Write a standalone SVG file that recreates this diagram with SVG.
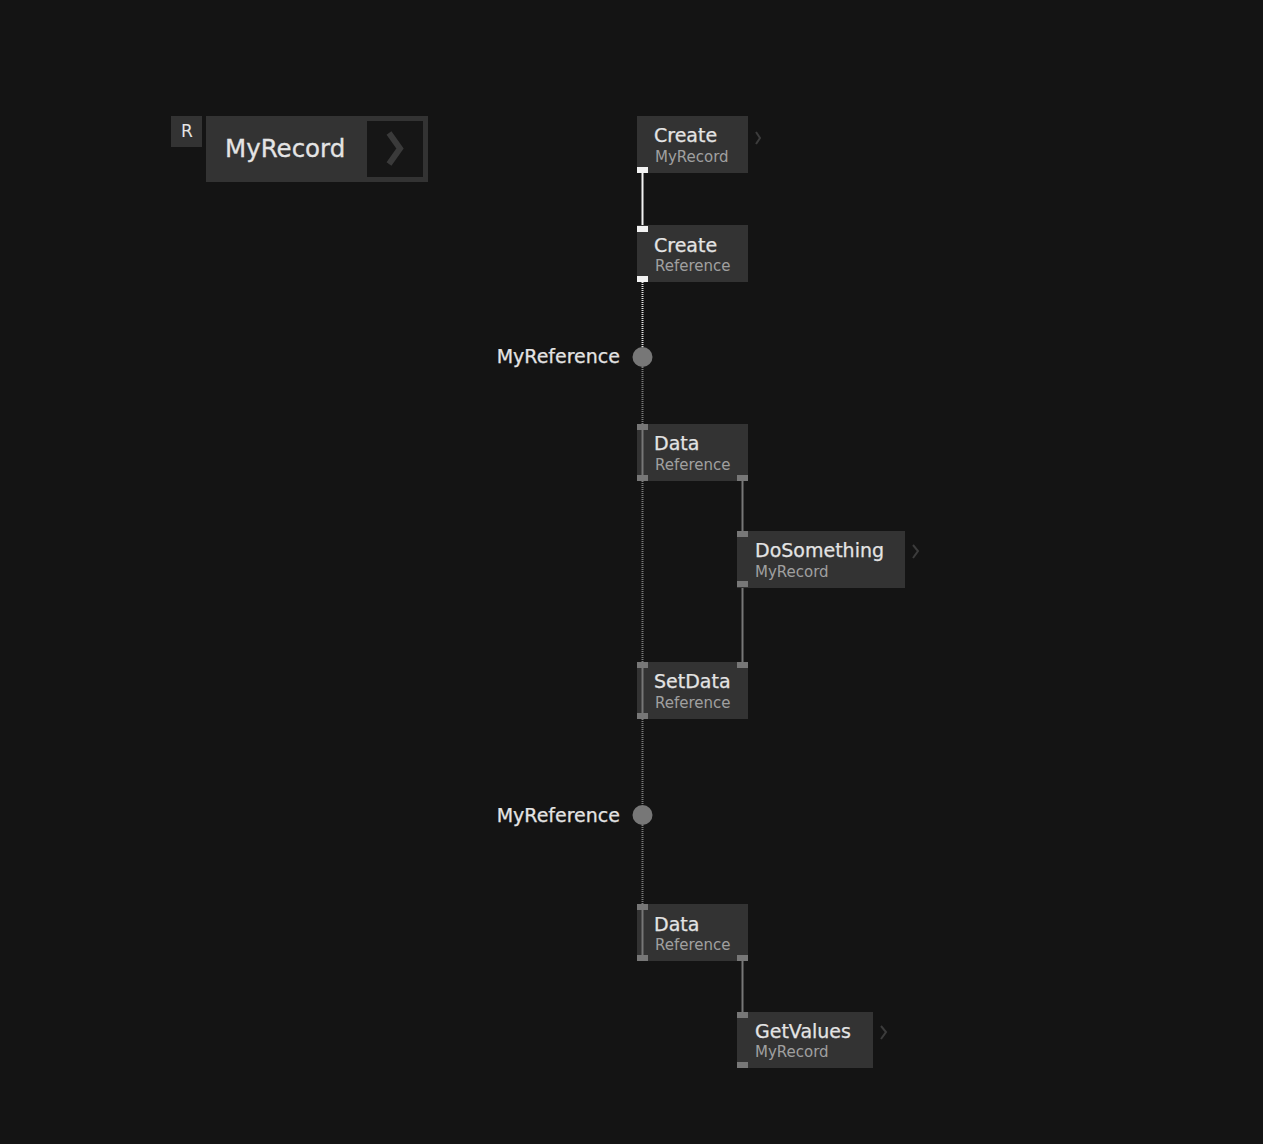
<svg xmlns="http://www.w3.org/2000/svg" width="1263" height="1144" viewBox="0 0 1263 1144">
<style>
.node{fill:#333333}
.t{font-family:"DejaVu Sans",sans-serif;font-size:19px;fill:#e4e4e4;stroke:#e4e4e4;stroke-width:0.25}
.s{font-family:"DejaVu Sans",sans-serif;font-size:15px;fill:#a0a0a0}
.lbl{font-family:"DejaVu Sans",sans-serif;font-size:19px;fill:#e4e4e4;stroke:#e4e4e4;stroke-width:0.25;text-anchor:end}
.pg{fill:#777777}
.pw{fill:#f2f2f2}
.chev{fill:none;stroke:#3c3c3c;stroke-width:2}
.bar{stroke:#777777;stroke-width:2}
.dot{stroke:#7a7a7a;stroke-width:2;stroke-dasharray:1 1}
</style>
<rect width="1263" height="1144" fill="#141414"/>
<g id="connectors">
<line x1="642.5" y1="173" x2="642.5" y2="226" stroke="#f2f2f2" stroke-width="2"/>
<line x1="642.5" y1="282" x2="642.5" y2="347" stroke="#e0e0e0" stroke-width="2" stroke-dasharray="1 1"/>
<line x1="642.5" y1="367" x2="642.5" y2="424" class="dot"/>
<line x1="642.5" y1="481" x2="642.5" y2="662" class="dot"/>
<line x1="642.5" y1="719" x2="642.5" y2="805" class="dot"/>
<line x1="642.5" y1="825" x2="642.5" y2="905" class="dot"/>
<line x1="742.5" y1="481" x2="742.5" y2="531" stroke="#777777" stroke-width="2"/>
<line x1="742.5" y1="587" x2="742.5" y2="662" stroke="#777777" stroke-width="2"/>
<line x1="742.5" y1="961" x2="742.5" y2="1012" stroke="#777777" stroke-width="2"/>
</g>
<g id="record-tag">
<rect x="171" y="116" width="31" height="31" class="node"/>
<text x="187" y="137" font-family="DejaVu Sans,sans-serif" font-size="17" fill="#e4e4e4" text-anchor="middle">R</text>
</g>
<g id="record">
<rect x="206" y="116" width="222" height="66" class="node"/>
<rect x="367" y="121" width="56" height="56" fill="#161616"/>
<text x="225" y="157" font-family="DejaVu Sans,sans-serif" font-size="24.5" fill="#e4e4e4" stroke="#e4e4e4" stroke-width="0.3">MyRecord</text>
<polyline points="389,133 400,148.5 389,164" fill="none" stroke="#3a3a3a" stroke-width="6"/>
</g>
<g id="create-myrecord">
<rect x="637" y="116" width="111" height="57" class="node"/>
<text x="654" y="142" class="t">Create</text>
<text x="655" y="162" class="s">MyRecord</text>
<rect x="637" y="167" width="11" height="6" class="pw"/>
<polyline points="756,132 760,138 756,144" class="chev"/>
</g>
<g id="create-reference">
<rect x="637" y="225" width="111" height="57" class="node"/>
<text x="654" y="252" class="t">Create</text>
<text x="655" y="271" class="s">Reference</text>
<rect x="637" y="226" width="11" height="6" class="pw"/>
<rect x="637" y="276" width="11" height="6" class="pw"/>
</g>
<g id="myreference-1">
<circle cx="642.5" cy="357" r="10" fill="#777777"/>
<text x="620" y="363" class="lbl">MyReference</text>
</g>
<g id="data-1">
<rect x="637" y="424" width="111" height="57" class="node"/>
<line x1="642.5" y1="430" x2="642.5" y2="475" class="bar"/>
<text x="654" y="450" class="t">Data</text>
<text x="655" y="470" class="s">Reference</text>
<rect x="637" y="424" width="11" height="6" class="pg"/>
<rect x="637" y="475" width="11" height="6" class="pg"/>
<rect x="737" y="475" width="11" height="6" class="pg"/>
</g>
<g id="dosomething">
<rect x="737" y="531" width="168" height="57" class="node"/>
<text x="755" y="557" class="t">DoSomething</text>
<text x="755" y="577" class="s">MyRecord</text>
<rect x="737" y="531" width="11" height="6" class="pg"/>
<rect x="737" y="581" width="11" height="6" class="pg"/>
<polyline points="913,545 918,551 913,558" class="chev"/>
</g>
<g id="setdata">
<rect x="637" y="662" width="111" height="57" class="node"/>
<line x1="642.5" y1="668" x2="642.5" y2="713" class="bar"/>
<text x="654" y="688" class="t">SetData</text>
<text x="655" y="708" class="s">Reference</text>
<rect x="637" y="662" width="11" height="6" class="pg"/>
<rect x="637" y="713" width="11" height="6" class="pg"/>
<rect x="737" y="662" width="11" height="6" class="pg"/>
</g>
<g id="myreference-2">
<circle cx="642.5" cy="815" r="10" fill="#777777"/>
<text x="620" y="822" class="lbl">MyReference</text>
</g>
<g id="data-2">
<rect x="637" y="904" width="111" height="57" class="node"/>
<line x1="642.5" y1="910" x2="642.5" y2="955" class="bar"/>
<text x="654" y="931" class="t">Data</text>
<text x="655" y="950" class="s">Reference</text>
<rect x="637" y="904" width="11" height="6" class="pg"/>
<rect x="637" y="955" width="11" height="6" class="pg"/>
<rect x="737" y="955" width="11" height="6" class="pg"/>
</g>
<g id="getvalues">
<rect x="737" y="1012" width="136" height="56" class="node"/>
<text x="755" y="1038" class="t">GetValues</text>
<text x="755" y="1057" class="s">MyRecord</text>
<rect x="737" y="1012" width="11" height="6" class="pg"/>
<rect x="737" y="1062" width="11" height="6" class="pg"/>
<polyline points="881,1026 886,1032 881,1039" class="chev"/>
</g>
</svg>
